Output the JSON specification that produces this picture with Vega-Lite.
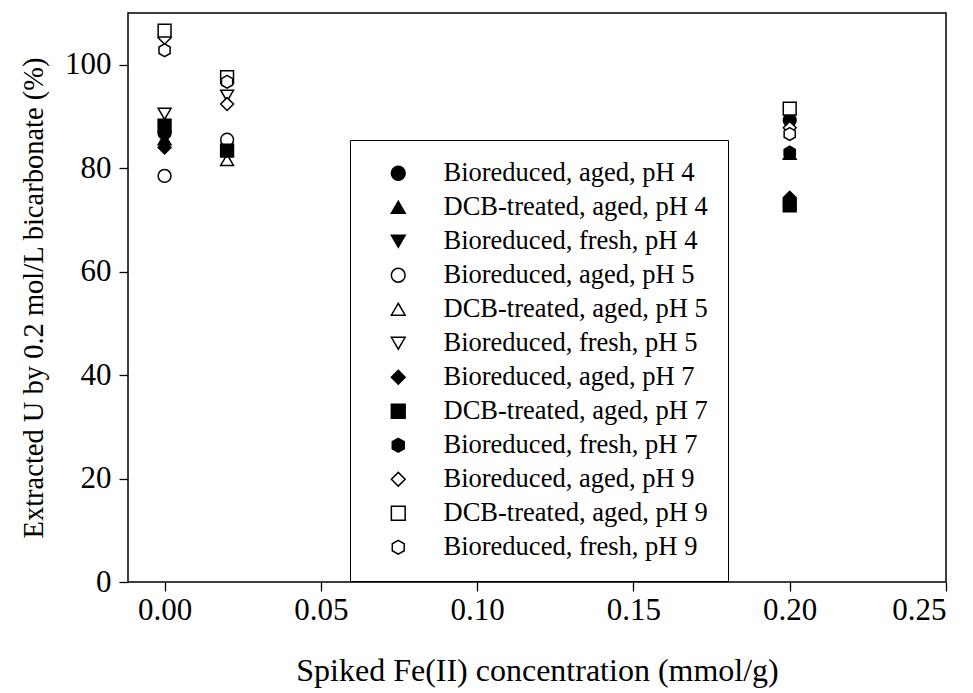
{
  "$schema": "https://vega.github.io/schema/vega-lite/v6.json",
  "width": 818,
  "height": 569,
  "autosize": {"type": "none"},
  "padding": {"left": 128, "top": 13, "right": 27, "bottom": 111},
  "background": "white",
  "config": {
    "font": "Liberation Serif",
    "view": {"stroke": "black", "strokeWidth": 1.5},
    "axis": {
      "grid": false,
      "domain": false,
      "tickColor": "black",
      "tickWidth": 1.3,
      "tickSize": 9,
      "labelColor": "black",
      "titleColor": "black",
      "labelFont": "Liberation Serif",
      "titleFont": "Liberation Serif",
      "labelFontSize": 31,
      "titleFontWeight": "normal"
    }
  },
  "data": {
    "values": [
      {"series": "Bioreduced, aged, pH 4", "fe": 0, "u": 86.8},
      {"series": "DCB-treated, aged, pH 4", "fe": 0, "u": 85.6},
      {"series": "Bioreduced, aged, pH 5", "fe": 0, "u": 78.5},
      {"series": "Bioreduced, fresh, pH 5", "fe": 0, "u": 90.5},
      {"series": "Bioreduced, aged, pH 7", "fe": 0, "u": 84.0},
      {"series": "DCB-treated, aged, pH 7", "fe": 0, "u": 88.2},
      {"series": "Bioreduced, fresh, pH 7", "fe": 0, "u": 87.2},
      {"series": "Bioreduced, aged, pH 9", "fe": 0, "u": 105.2},
      {"series": "DCB-treated, aged, pH 9", "fe": 0, "u": 106.6},
      {"series": "Bioreduced, fresh, pH 9", "fe": 0, "u": 102.8},
      {"series": "Bioreduced, aged, pH 5", "fe": 0.02, "u": 85.5},
      {"series": "DCB-treated, aged, pH 5", "fe": 0.02, "u": 81.6},
      {"series": "Bioreduced, fresh, pH 5", "fe": 0.02, "u": 94.0},
      {"series": "DCB-treated, aged, pH 7", "fe": 0.02, "u": 83.4},
      {"series": "Bioreduced, aged, pH 9", "fe": 0.02, "u": 92.4},
      {"series": "DCB-treated, aged, pH 9", "fe": 0.02, "u": 97.6},
      {"series": "Bioreduced, fresh, pH 9", "fe": 0.02, "u": 96.7},
      {"series": "Bioreduced, aged, pH 4", "fe": 0.2, "u": 89.3},
      {"series": "DCB-treated, aged, pH 4", "fe": 0.2, "u": 82.8},
      {"series": "Bioreduced, aged, pH 7", "fe": 0.2, "u": 74.3},
      {"series": "DCB-treated, aged, pH 7", "fe": 0.2, "u": 72.8},
      {"series": "Bioreduced, fresh, pH 7", "fe": 0.2, "u": 83.0},
      {"series": "Bioreduced, aged, pH 9", "fe": 0.2, "u": 87.8},
      {"series": "DCB-treated, aged, pH 9", "fe": 0.2, "u": 91.5},
      {"series": "Bioreduced, fresh, pH 9", "fe": 0.2, "u": 86.6}
    ]
  },
  "mark": {"type": "point", "filled": true, "stroke": "black", "strokeWidth": 1.5, "size": 165, "opacity": 1},
  "encoding": {
    "x": {
      "field": "fe", "type": "quantitative",
      "title": "Spiked Fe(II) concentration (mmol/g)",
      "scale": {"domain": [-0.0117, 0.25], "nice": false, "zero": false},
      "axis": {"values": [0, 0.05, 0.1, 0.15, 0.2, 0.25], "format": ".2f", "labelPadding": 4, "titlePadding": 30, "titleFontSize": 32}
    },
    "y": {
      "field": "u", "type": "quantitative",
      "title": "Extracted U by 0.2 mol/L bicarbonate (%)",
      "scale": {"domain": [0, 110], "nice": false},
      "axis": {"values": [0, 20, 40, 60, 80, 100], "labelPadding": 8, "titlePadding": 16, "titleFontSize": 28.5}
    },
    "shape": {
      "field": "series", "type": "nominal",
      "scale": {
        "domain": ["Bioreduced, aged, pH 4", "DCB-treated, aged, pH 4", "Bioreduced, fresh, pH 4", "Bioreduced, aged, pH 5", "DCB-treated, aged, pH 5", "Bioreduced, fresh, pH 5", "Bioreduced, aged, pH 7", "DCB-treated, aged, pH 7", "Bioreduced, fresh, pH 7", "Bioreduced, aged, pH 9", "DCB-treated, aged, pH 9", "Bioreduced, fresh, pH 9"],
        "range": ["circle", "triangle-up", "triangle-down", "circle", "triangle-up", "triangle-down", "M0,-1L1,0L0,1L-1,0Z", "square", "M0,-1L0.866,-0.5L0.866,0.5L0,1L-0.866,0.5L-0.866,-0.5Z", "M0,-1L1,0L0,1L-1,0Z", "square", "M0,-1L0.866,-0.5L0.866,0.5L0,1L-0.866,0.5L-0.866,-0.5Z"]
      },
      "legend": {
        "title": null,
        "orient": "none",
        "legendX": 222,
        "legendY": 127,
        "padding": 20,
        "symbolOffset": 15,
        "symbolSize": 190,
        "labelFont": "Liberation Serif",
        "labelFontSize": 26.5,
        "labelColor": "black",
        "labelOffset": 32,
        "labelLimit": 500,
        "rowPadding": 7,
        "strokeColor": "black",
        "fillColor": "white",
        "encode": {"symbols": {"update": {"stroke": {"value": "black"}, "strokeWidth": {"value": 1.5}}}}
      }
    },
    "fill": {
      "field": "series", "type": "nominal",
      "scale": {
        "domain": ["Bioreduced, aged, pH 4", "DCB-treated, aged, pH 4", "Bioreduced, fresh, pH 4", "Bioreduced, aged, pH 5", "DCB-treated, aged, pH 5", "Bioreduced, fresh, pH 5", "Bioreduced, aged, pH 7", "DCB-treated, aged, pH 7", "Bioreduced, fresh, pH 7", "Bioreduced, aged, pH 9", "DCB-treated, aged, pH 9", "Bioreduced, fresh, pH 9"],
        "range": ["black", "black", "black", "white", "white", "white", "black", "black", "black", "white", "white", "white"]
      },
      "legend": {
        "title": null,
        "orient": "none",
        "legendX": 222,
        "legendY": 127,
        "padding": 20,
        "symbolOffset": 15,
        "symbolSize": 190,
        "labelFont": "Liberation Serif",
        "labelFontSize": 26.5,
        "labelColor": "black",
        "labelOffset": 32,
        "labelLimit": 500,
        "rowPadding": 7,
        "strokeColor": "black",
        "fillColor": "white",
        "encode": {"symbols": {"update": {"stroke": {"value": "black"}, "strokeWidth": {"value": 1.5}}}}
      }
    }
  }
}
